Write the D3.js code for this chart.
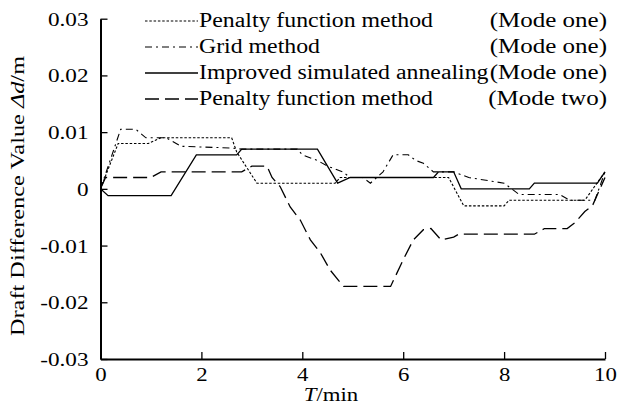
<!DOCTYPE html>
<html>
<head>
<meta charset="utf-8">
<script src="https://cdn.jsdelivr.net/npm/d3@7/dist/d3.min.js"></script>
<style>
  html, body { margin: 0; padding: 0; background: #fff; }
  svg { display: block; }
  text { font-family: "Liberation Serif", "Times New Roman", serif; fill: #000; }
</style>
</head>
<body>
<svg id="chart" width="622" height="405"></svg>
<script>
// ---- data ----
const seriesNames = [
  "Penalty function method",
  "Grid method",
  "Improved simulated annealing",
  "Penalty function method"
];
const seriesModes = ["(Mode one)", "(Mode one)", "(Mode one)", "(Mode two)"];

const penaltyOne = [
  [0,0],[0.35,0.008],[0.95,0.008],[1.2,0.009],[2.6,0.009],[2.7,0.0065],[3.1,0.001],
  [4.65,0.001],[4.75,0.002],[6.9,0.002],[7.2,-0.003],[8.0,-0.003],[8.1,-0.002],
  [9.6,-0.002],[10,0.003]
];
const gridOne = [
  [0,0],[0.4,0.0105],[0.7,0.0105],[0.9,0.009],[1.3,0.009],[1.6,0.0075],[2.6,0.0072],
  [2.8,0.007],[3.9,0.007],[4.0,0.006],[4.3,0.005],[4.5,0.004],[4.8,0.003],[4.95,0.002],
  [5.2,0.002],[5.35,0.001],[5.6,0.003],[5.8,0.006],[6.1,0.006],[6.25,0.005],[6.4,0.0045],
  [6.6,0.003],[7.0,0.003],[7.3,0.002],[8.0,0.001],[8.3,-0.001],[9.1,-0.001],[9.3,-0.002],
  [9.8,-0.002],[10,0.003]
];
const annealingOne = [
  [0,0],[0.15,-0.0012],[1.4,-0.0012],[1.9,0.006],[2.7,0.006],[2.8,0.007],[4.3,0.007],
  [4.7,0.001],[4.95,0.002],[6.6,0.002],[6.7,0.003],[7.0,0.003],[7.15,0],[8.5,0],
  [8.6,0.001],[9.85,0.001],[10,0.003]
];
const penaltyTwo = [
  [0,0],[0.1,0.002],[1.0,0.002],[1.2,0.003],[2.8,0.003],[3.0,0.004],[3.3,0.004],
  [3.4,0.002],[3.56,0.0004],[3.76,-0.0032],[3.96,-0.0055],[4.16,-0.009],[4.36,-0.0113],
  [4.55,-0.0143],[4.75,-0.0165],[4.82,-0.0172],[5.75,-0.0172],[6.0,-0.0125],[6.2,-0.009],
  [6.4,-0.0072],[6.55,-0.007],[6.75,-0.009],[7.0,-0.0085],[7.1,-0.008],[8.6,-0.008],
  [8.8,-0.007],[9.25,-0.007],[9.4,-0.006],[9.6,-0.004],[9.75,-0.003],[10,0.002]
];

const xTicks = [0, 2, 4, 6, 8, 10];
const xTickLabels = ["0", "2", "4", "6", "8", "10"];
const yTicks = [-0.03, -0.02, -0.01, 0, 0.01, 0.02, 0.03];
const yTickLabels = ["-0.03", "-0.02", "-0.01", "0", "0.01", "0.02", "0.03"];

// ---- drawing ----
const svg = d3.select("#chart");
const x = d3.scaleLinear().domain([0, 10]).range([100.5, 605]);
const y = d3.scaleLinear().domain([-0.03, 0.03]).range([359, 18.7]);

// horizontal stretch of text glyphs (reference font is wide)
function stretch(sel, factor) {
  sel.each(function () {
    const len = this.getComputedTextLength();
    d3.select(this).attr("textLength", len * factor).attr("lengthAdjust", "spacingAndGlyphs");
  });
}

const styles = [
  { dash: "2.5,1.8", width: 1.1 },
  { dash: "7,4,2,4", width: 1.1 },
  { dash: null, width: 1.3 },
  { dash: "14,6", width: 1.3 }
];
const allSeries = [penaltyOne, gridOne, annealingOne, penaltyTwo];

const line = d3.line().x(d => x(d[0])).y(d => y(d[1]));

allSeries.forEach((s, i) => {
  svg.append("path")
    .datum(s)
    .attr("d", line)
    .attr("fill", "none")
    .attr("stroke", "#000")
    .attr("stroke-width", styles[i].width)
    .attr("stroke-dasharray", styles[i].dash);
});

// axes
const yAxis = d3.axisLeft(y)
  .tickValues(yTicks)
  .tickFormat((d, i) => yTickLabels[i])
  .tickSizeInner(-7)
  .tickSizeOuter(0)
  .tickPadding(12);
const gy = svg.append("g").attr("transform", `translate(${x(0)},0)`).call(yAxis);

const xAxis = d3.axisBottom(x)
  .tickValues(xTicks)
  .tickFormat((d, i) => xTickLabels[i])
  .tickSizeInner(-7)
  .tickSizeOuter(0)
  .tickPadding(7);
const gx = svg.append("g").attr("transform", `translate(0,${y(-0.03)})`).call(xAxis);

[gx, gy].forEach(g => {
  g.select(".domain").attr("stroke", "#000").attr("stroke-width", 2);
  g.selectAll(".tick line").attr("stroke", "#000").attr("stroke-width", 1.3);
  g.selectAll(".tick text").style("font-family", '"Liberation Serif", serif').style("font-size", "19px");
});
gy.selectAll(".tick text").attr("dy", "0.34em");
gx.selectAll(".tick text").attr("dy", "0.8em");
stretch(gy.selectAll(".tick text"), 1.22);
stretch(gx.selectAll(".tick text"), 1.2);

// axis titles
const xt = svg.append("text")
  .attr("x", 331).attr("y", 401)
  .attr("text-anchor", "middle")
  .style("font-size", "19px");
xt.append("tspan").style("font-style", "italic").text("T");
xt.append("tspan").text("/min");
stretch(xt, 1.2);

const yt = svg.append("text")
  .attr("transform", "translate(24,196) rotate(-90)")
  .attr("text-anchor", "middle")
  .style("font-size", "19px");
yt.append("tspan").text("Draft Difference Value ");
yt.append("tspan").style("font-style", "italic").text("Δd");
yt.append("tspan").text("/m");
stretch(yt, 1.28);

// legend
const legendY = [21, 47, 73, 99];
seriesNames.forEach((name, i) => {
  const ly = legendY[i];
  svg.append("line")
    .attr("x1", 145).attr("x2", 198)
    .attr("y1", ly).attr("y2", ly)
    .attr("stroke", "#000")
    .attr("stroke-width", styles[i].width)
    .attr("stroke-dasharray", styles[i].dash);
  const t1 = svg.append("text")
    .attr("x", 199).attr("y", ly + 6)
    .style("font-size", "20px")
    .text(name);
  stretch(t1, 1.19);
  const t2 = svg.append("text")
    .attr("x", 607).attr("y", ly + 6)
    .attr("text-anchor", "end")
    .style("font-size", "20px")
    .text(seriesModes[i]);
  stretch(t2, 1.25);
});
</script>
</body>
</html>
